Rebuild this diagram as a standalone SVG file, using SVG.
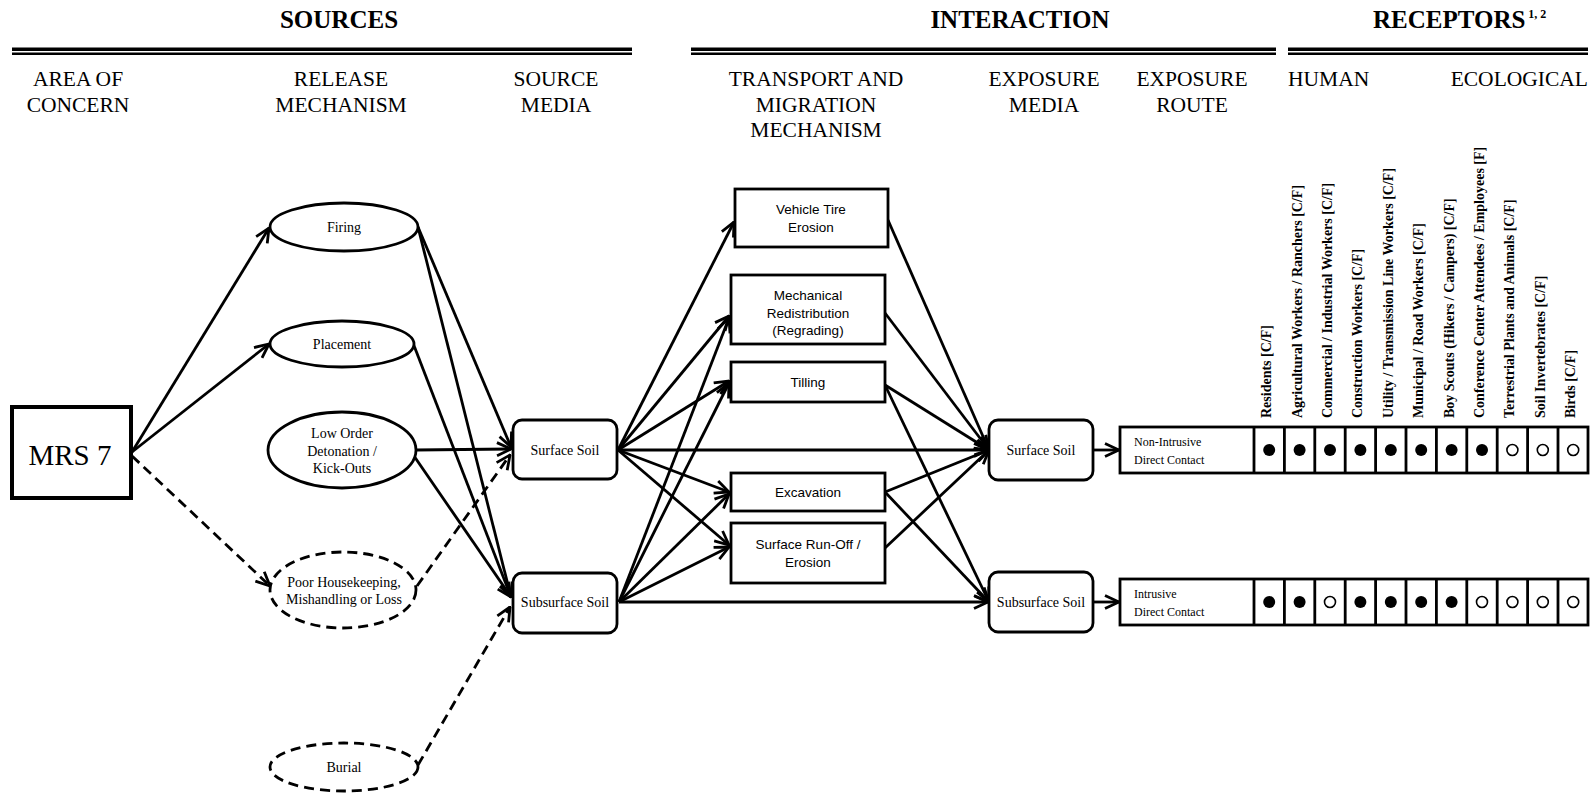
<svg xmlns="http://www.w3.org/2000/svg" width="1594" height="794" viewBox="0 0 1594 794">
<defs>
<style>
.hd{font-family:"Liberation Serif","Times New Roman",serif;font-weight:bold;font-size:25px;fill:#000}
.ch{font-family:"Liberation Serif","Times New Roman",serif;font-size:21.5px;fill:#000;text-anchor:middle}
.sf{font-family:"Liberation Serif","Times New Roman",serif;font-size:14px;fill:#000;text-anchor:middle}
.ss{font-family:"Liberation Sans",Arial,sans-serif;font-size:13.5px;fill:#000;text-anchor:middle}
.rl{font-family:"Liberation Serif","Times New Roman",serif;font-size:12px;fill:#000}
.rc{font-family:"Liberation Serif","Times New Roman",serif;font-size:14px;font-weight:bold;fill:#000}
.nd{fill:#fff;stroke:#000;stroke-width:2.8}
.dn{fill:#fff;stroke:#000;stroke-width:2.8;stroke-dasharray:10 6}
.cn{fill:none;stroke:#000;stroke-width:2.8;marker-end:url(#ar)}
.cd{fill:none;stroke:#000;stroke-width:2.8;stroke-dasharray:10 6;marker-end:url(#ar)}
.tl{fill:none;stroke:#000;stroke-width:2.8}
.fd{fill:#000}
.od{fill:#fff;stroke:#000;stroke-width:1.6}
</style>
<marker id="ar" markerUnits="userSpaceOnUse" viewBox="0 0 16 16" refX="15" refY="8" markerWidth="16" markerHeight="16" orient="auto">
<path d="M1,1.5 L15,8 L1,14.5" fill="none" stroke="#000" stroke-width="2.8"/>
</marker>
</defs>
<rect width="1594" height="794" fill="#fff"/>

<g id="headers">
<text class="hd" x="339" y="28" text-anchor="middle">SOURCES</text>
<text class="hd" x="1020" y="28" text-anchor="middle">INTERACTION</text>
<text class="hd" x="1373" y="28">RECEPTORS<tspan font-size="12" dy="-10"> 1, 2</tspan></text>
<rect x="12" y="47.5" width="620" height="3.5"/>
<rect x="12" y="52.5" width="620" height="2.5"/>
<rect x="691" y="47.5" width="585" height="3.5"/>
<rect x="691" y="52.5" width="585" height="2.5"/>
<rect x="1288" y="47.5" width="300" height="3.5"/>
<rect x="1288" y="52.5" width="300" height="2.5"/>
<text class="ch" x="78" y="86">AREA OF</text>
<text class="ch" x="78" y="112">CONCERN</text>
<text class="ch" x="341" y="86">RELEASE</text>
<text class="ch" x="341" y="112">MECHANISM</text>
<text class="ch" x="556" y="86">SOURCE</text>
<text class="ch" x="556" y="112">MEDIA</text>
<text class="ch" x="816" y="86">TRANSPORT AND</text>
<text class="ch" x="816" y="112">MIGRATION</text>
<text class="ch" x="816" y="137">MECHANISM</text>
<text class="ch" x="1044" y="86">EXPOSURE</text>
<text class="ch" x="1044" y="112">MEDIA</text>
<text class="ch" x="1192" y="86">EXPOSURE</text>
<text class="ch" x="1192" y="112">ROUTE</text>
<text class="ch" x="1288" y="86" style="text-anchor:start">HUMAN</text>
<text class="ch" x="1588" y="86" style="text-anchor:end">ECOLOGICAL</text>
</g>

<g id="connectors">
<path class="cn" d="M132,452 L269,228"/>
<path class="cn" d="M132,452 L269,344"/>
<path class="cd" d="M132,456 L270,586"/>
<path class="cn" d="M418,227 L511,447"/>
<path class="cn" d="M418,227 L511,597"/>
<path class="cn" d="M413,343 L511,597"/>
<path class="cn" d="M416,450 L511,449"/>
<path class="cn" d="M414,456 L511,597"/>
<path class="cd" d="M417,586 L510,455"/>
<path class="cd" d="M418,765 L510,607"/>
<path class="cn" d="M618,450 L734,222"/>
<path class="cn" d="M618,450 L729,316"/>
<path class="cn" d="M618,450 L729,381"/>
<path class="cn" d="M618,450 L988,450"/>
<path class="cn" d="M618,450 L729,492"/>
<path class="cn" d="M618,450 L729,545"/>
<path class="cn" d="M619,602 L729,318"/>
<path class="cn" d="M619,602 L729,383"/>
<path class="cn" d="M619,602 L729,494"/>
<path class="cn" d="M619,602 L729,547"/>
<path class="cn" d="M619,602 L988,602"/>
<path class="cn" d="M888,220 L989,450"/>
<path class="cn" d="M885,313 L989,450"/>
<path class="cn" d="M885,385 L989,450"/>
<path class="cn" d="M885,385 L989,602"/>
<path class="cn" d="M885,492 L989,450"/>
<path class="cn" d="M885,492 L989,602"/>
<path class="cn" d="M885,548 L989,450"/>
<path class="cn" d="M1093,450 L1119,450"/>
<path class="cn" d="M1093,602 L1119,602"/>
</g>

<g id="mrs7">
<rect x="12" y="407" width="119" height="91" fill="#fff" stroke="#000" stroke-width="4"/>
<text x="70" y="465" font-family="'Liberation Serif','Times New Roman',serif" font-size="29" text-anchor="middle">MRS 7</text>
</g>
<g id="firing">
<ellipse class="nd" cx="344" cy="227" rx="74" ry="24"/>
<text class="sf" x="344" y="232">Firing</text>
</g>
<g id="placement">
<ellipse class="nd" cx="342" cy="344" rx="72" ry="23"/>
<text class="sf" x="342" y="349">Placement</text>
</g>
<g id="low-order">
<ellipse class="nd" cx="342" cy="450" rx="74" ry="38"/>
<text class="sf" x="342" y="438">Low Order</text>
<text class="sf" x="342" y="456">Detonation /</text>
<text class="sf" x="342" y="473">Kick-Outs</text>
</g>
<g id="poor-housekeeping">
<ellipse class="dn" cx="343" cy="590" rx="73" ry="38"/>
<text class="sf" x="344" y="587">Poor Housekeeping,</text>
<text class="sf" x="344" y="604">Mishandling or Loss</text>
</g>
<g id="burial">
<ellipse class="dn" cx="344" cy="767" rx="74" ry="24"/>
<text class="sf" x="344" y="772">Burial</text>
</g>
<g id="src-surface-soil">
<rect class="nd" x="513" y="420" width="104" height="59" rx="9"/>
<text class="sf" x="565" y="455">Surface Soil</text>
</g>
<g id="src-subsurface-soil">
<rect class="nd" x="513" y="573" width="104" height="60" rx="9"/>
<text class="sf" x="565" y="607">Subsurface Soil</text>
</g>
<g id="vehicle-tire">
<rect class="nd" x="735" y="189" width="153" height="58"/>
<text class="ss" x="811" y="214">Vehicle Tire</text>
<text class="ss" x="811" y="232">Erosion</text>
</g>
<g id="mechanical">
<rect class="nd" x="731" y="275" width="154" height="69"/>
<text class="ss" x="808" y="300">Mechanical</text>
<text class="ss" x="808" y="318">Redistribution</text>
<text class="ss" x="808" y="335">(Regrading)</text>
</g>
<g id="tilling">
<rect class="nd" x="731" y="362" width="154" height="40"/>
<text class="ss" x="808" y="387">Tilling</text>
</g>
<g id="excavation">
<rect class="nd" x="731" y="473" width="154" height="38"/>
<text class="ss" x="808" y="497">Excavation</text>
</g>
<g id="runoff">
<rect class="nd" x="731" y="523" width="154" height="60"/>
<text class="ss" x="808" y="549">Surface Run-Off /</text>
<text class="ss" x="808" y="567">Erosion</text>
</g>
<g id="exp-surface-soil">
<rect class="nd" x="989" y="420" width="104" height="60" rx="9"/>
<text class="sf" x="1041" y="455">Surface Soil</text>
</g>
<g id="exp-subsurface-soil">
<rect class="nd" x="989" y="572" width="104" height="60" rx="9"/>
<text class="sf" x="1041" y="607">Subsurface Soil</text>
</g>

<g id="receptor-labels">
<text class="rc" transform="translate(1271.2,418) rotate(-90)">Residents [C/F]</text>
<text class="rc" transform="translate(1301.6,418) rotate(-90)">Agricultural Workers / Ranchers [C/F]</text>
<text class="rc" transform="translate(1332,418) rotate(-90)">Commercial / Industrial Workers [C/F]</text>
<text class="rc" transform="translate(1362.4,418) rotate(-90)">Construction Workers [C/F]</text>
<text class="rc" transform="translate(1392.8,418) rotate(-90)">Utility / Transmission Line Workers [C/F]</text>
<text class="rc" transform="translate(1423.2,418) rotate(-90)">Municipal / Road Workers [C/F]</text>
<text class="rc" transform="translate(1453.6,418) rotate(-90)">Boy Scouts (Hikers / Campers) [C/F]</text>
<text class="rc" transform="translate(1484,418) rotate(-90)">Conference Center Attendees / Employees [F]</text>
<text class="rc" transform="translate(1514.4,418) rotate(-90)">Terrestrial Plants and Animals [C/F]</text>
<text class="rc" transform="translate(1544.8,418) rotate(-90)">Soil Invertebrates [C/F]</text>
<text class="rc" transform="translate(1575.2,418) rotate(-90)">Birds [C/F]</text>
</g>

<g id="route-non-intrusive">
<rect class="tl" x="1120" y="427" width="468" height="46"/>
<path class="tl" d="M1254,427V473M1284.4,427V473M1314.8,427V473M1345.2,427V473M1375.6,427V473M1406,427V473M1436.4,427V473M1466.8,427V473M1497.2,427V473M1527.6,427V473M1558,427V473"/>
<text class="rl" x="1134" y="446">Non-Intrusive</text>
<text class="rl" x="1134" y="464">Direct Contact</text>
<circle class="fd" cx="1269.2" cy="450" r="6"/>
<circle class="fd" cx="1299.6" cy="450" r="6"/>
<circle class="fd" cx="1330" cy="450" r="6"/>
<circle class="fd" cx="1360.4" cy="450" r="6"/>
<circle class="fd" cx="1390.8" cy="450" r="6"/>
<circle class="fd" cx="1421.2" cy="450" r="6"/>
<circle class="fd" cx="1451.6" cy="450" r="6"/>
<circle class="fd" cx="1482" cy="450" r="6"/>
<circle class="od" cx="1512.4" cy="450" r="5.5"/>
<circle class="od" cx="1542.8" cy="450" r="5.5"/>
<circle class="od" cx="1573.2" cy="450" r="5.5"/>
</g>
<g id="route-intrusive">
<rect class="tl" x="1120" y="579" width="468" height="46"/>
<path class="tl" d="M1254,579V625M1284.4,579V625M1314.8,579V625M1345.2,579V625M1375.6,579V625M1406,579V625M1436.4,579V625M1466.8,579V625M1497.2,579V625M1527.6,579V625M1558,579V625"/>
<text class="rl" x="1134" y="598">Intrusive</text>
<text class="rl" x="1134" y="616">Direct Contact</text>
<circle class="fd" cx="1269.2" cy="602" r="6"/>
<circle class="fd" cx="1299.6" cy="602" r="6"/>
<circle class="od" cx="1330" cy="602" r="5.5"/>
<circle class="fd" cx="1360.4" cy="602" r="6"/>
<circle class="fd" cx="1390.8" cy="602" r="6"/>
<circle class="fd" cx="1421.2" cy="602" r="6"/>
<circle class="fd" cx="1451.6" cy="602" r="6"/>
<circle class="od" cx="1482" cy="602" r="5.5"/>
<circle class="od" cx="1512.4" cy="602" r="5.5"/>
<circle class="od" cx="1542.8" cy="602" r="5.5"/>
<circle class="od" cx="1573.2" cy="602" r="5.5"/>
</g>
</svg>
